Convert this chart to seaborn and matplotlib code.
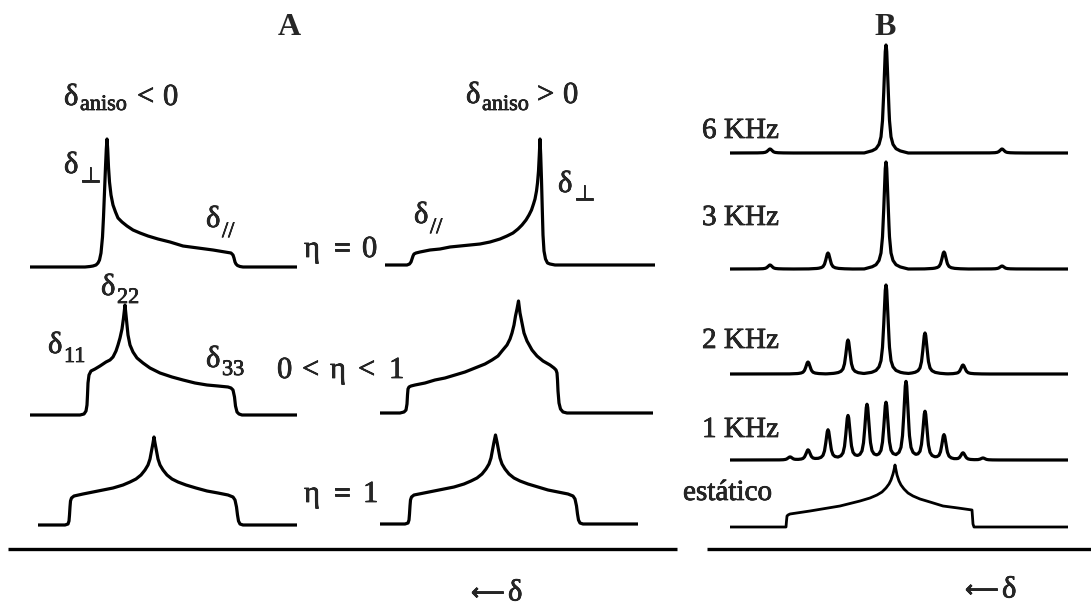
import numpy as np
import pandas as pd
import matplotlib.pyplot as plt
import matplotlib.patheffects as pe
import seaborn as sns

# ---- panel A: static CSA powder patterns ----
# x = shift (px from the left end of the trace), h = height above baseline (px)
eta0_neg_x = [0, 55, 60, 63, 66, 68, 69.5, 71, 72.5, 73.5, 74.5, 75.5, 76.3, 77, 77.7, 78.5, 79.5, 81, 83, 85.5, 88,
              92, 97, 103, 110, 118, 128, 140, 153, 168, 183, 195, 201, 203, 204, 205, 206, 207.5, 210, 213, 267]
eta0_neg_h = [0, 0, 0.5, 1, 2, 4, 7, 14, 30, 50, 75, 100, 118, 128, 118, 100, 85, 72, 62, 55, 49,
              45, 41, 37, 34, 31, 28, 25, 21, 19, 17, 15, 14, 12, 9, 5, 3, 1.5, 0.5, 0, 0]

eta0_pos_x = [0, 22, 24.5, 26, 27, 28, 29, 31, 35, 45, 55, 65, 75, 85, 95, 105, 115, 122, 128, 133, 137, 141, 144,
              146.5, 148.5, 150, 151.5, 152.5, 153.5, 154.3, 155, 155.7, 156.5, 157.3, 158, 159, 160.5, 162.5, 165, 170, 270]
eta0_pos_h = [0, 0, 1, 3, 6, 9, 11, 12, 13, 15, 16, 18, 19, 20, 21, 23, 26, 29, 32, 36, 40, 45, 50,
              55, 61, 66, 74, 82, 94, 110, 126, 110, 85, 55, 30, 14, 6, 2, 1, 0, 0]

etamid_neg_x = [0, 50, 54, 56, 57, 57.5, 58, 59, 61, 65, 70, 76, 80, 83, 86, 88, 90, 92, 93.5, 95, 96.5, 98, 100,
                103, 107, 113, 120, 130, 142, 153, 165, 177, 188, 198, 201, 203, 204.5, 205.5, 207, 209, 212, 267]
etamid_neg_h = [0, 0, 1, 4, 10, 20, 32, 40, 44, 46, 49, 53, 55, 58, 64, 70, 77, 86, 97, 110, 95, 80, 70,
                63, 57, 52, 47, 42, 38, 35, 32, 30, 29, 28, 27, 25, 18, 9, 3, 1, 0, 0]

etamid_pos_x = [0, 20, 24, 26, 27, 27.5, 28, 29, 31, 35, 45, 55, 65, 75, 85, 95, 105, 112, 118, 122, 127, 130, 132,
                134, 135.5, 137, 138.5, 140, 142, 144, 147, 152, 157, 163, 170, 174, 176, 177, 177.5, 178, 179, 180.5,
                183, 187, 273]
etamid_pos_h = [0, 0, 1, 3, 9, 18, 24, 26, 27, 28, 30, 33, 35, 38, 41, 45, 49, 53, 57, 62, 68, 74, 80,
                88, 97, 104, 112, 100, 90, 80, 72, 63, 57, 52, 48, 45, 43, 40, 33, 22, 10, 4,
                1, 0, 0]

eta1_neg_x = [0, 27, 30, 31, 31.5, 32, 32.5, 33.5, 36, 45, 55, 65, 75, 85, 92, 98, 103, 107, 110, 112, 113.5, 115,
              116, 117, 118.5, 120, 122, 125, 129, 134, 140, 148, 158, 169, 180, 190, 195, 197, 198.5, 199.5,
              200.5, 202, 205, 259]
eta1_neg_h = [0, 0, 1, 4, 10, 18, 24, 27, 29, 31, 33, 35, 37, 40, 43, 46, 50, 55, 60, 66, 74, 82,
              88, 82, 74, 66, 60, 55, 50, 46, 43, 40, 37, 34, 32, 30, 28, 25, 18, 10,
              4, 1, 0, 0]

eta1_pos_x = [0, 25, 28, 29, 29.5, 30, 30.5, 31.5, 34, 44, 54, 64, 74, 84, 91, 97, 102, 106, 109, 111, 112.5, 114,
              115.5, 117, 118.5, 120, 122, 125, 129, 134, 140, 148, 158, 168, 178, 188, 193, 195, 196.5, 197.5,
              198.5, 200, 203, 258]
eta1_pos_h = [0, 0, 1, 4, 10, 18, 24, 27, 29, 31, 33, 35, 37, 40, 43, 46, 50, 55, 60, 66, 74, 82,
              89, 82, 74, 66, 60, 55, 50, 46, 43, 40, 37, 34, 32, 30, 28, 25, 18, 10,
              4, 1, 0, 0]

# ---- panel B: MAS spectra at several spinning rates ----
static_x = [0, 56, 56.5, 57, 58, 60, 80, 110, 130, 140, 147, 152, 156, 159, 161, 163, 164, 165, 166, 167, 169, 171,
            174, 178, 183, 190, 200, 213, 228, 242, 242.5, 243, 244, 338]
static_h = [0, 0, 6, 11, 12, 13, 16, 21, 26, 29, 32, 35, 39, 43, 47, 53, 57, 62, 57, 52, 46, 42,
            38, 34, 31, 28, 25, 21, 19, 17, 10, 3, 0, 0]

# single-line shape read from the isotropic peak (offset px, fraction of height)
line_dx = [-22, -14, -10, -7, -5, -3.5, -2.5, -1.5, -0.7, 0, 0.7, 1.5, 2.5, 3.5, 5, 7, 10, 14, 22]
line_fr = [0, 0.02, 0.04, 0.08, 0.15, 0.3, 0.5, 0.75, 0.95, 1, 0.95, 0.75, 0.5, 0.3, 0.15, 0.08, 0.04, 0.02, 0]

spin_labels = ["6 KHz", "3 KHz", "2 KHz", "1 KHz"]
pos_6k = [40, 156, 272]
amp_6k = [4, 108, 4]
pos_3k = [40, 98, 156, 214, 272]
amp_3k = [4, 16, 107, 17, 3]
pos_2k = [78, 118, 156, 195, 233]
amp_2k = [12, 34, 89, 41, 9]
pos_1k = [60, 78, 98, 118, 137, 156, 176, 195, 214, 233, 253]
amp_1k = [3, 10, 30, 44, 55, 57, 78, 48, 25, 7, 2]
B_width = 338

# ---- layout (pixel frame of the 1091x607 figure) ----
W, H = 1091, 607
LW = 2.3
INK = "black"

sns.set_theme(style="white")
plt.rcParams["font.family"] = ["Liberation Serif", "DejaVu Serif"]

fig = plt.figure(figsize=(W / 100, H / 100), dpi=100)
ax = fig.add_axes([0, 0, 1, 1])
ax.set_xlim(0, W)
ax.set_ylim(H, 0)
ax.axis("off")


def draw_trace(x, h, x0, base, lw=LW):
    df = pd.DataFrame({"x": np.asarray(x, float) + x0,
                       "y": base - np.asarray(h, float)})
    sns.lineplot(data=df, x="x", y="y", sort=False, estimator=None,
                 color=INK, lw=lw, ax=ax, legend=False,
                 solid_joinstyle="round", solid_capstyle="butt")


def spectrum(pos, amp):
    grid = np.arange(0, B_width + 0.25, 0.25)
    y = np.zeros_like(grid)
    for p, a in zip(pos, amp):
        y += a * np.interp(grid - p, line_dx, line_fr, left=0, right=0)
    return grid, y


# panel A traces: (x, h, left x, baseline y)
draw_trace(eta0_neg_x, eta0_neg_h, 30, 267)
draw_trace(eta0_pos_x, eta0_pos_h, 385, 265)
draw_trace(etamid_neg_x, etamid_neg_h, 30, 415)
draw_trace(etamid_pos_x, etamid_pos_h, 380, 413)
draw_trace(eta1_neg_x, eta1_neg_h, 38, 525)
draw_trace(eta1_pos_x, eta1_pos_h, 380, 524)

# panel B traces
B_x0 = 730
B_bases = [153, 269, 374, 460]
for (pos, amp), base in zip([(pos_6k, amp_6k), (pos_3k, amp_3k),
                             (pos_2k, amp_2k), (pos_1k, amp_1k)], B_bases):
    gx, gy = spectrum(pos, amp)
    draw_trace(gx, gy, B_x0, base)
draw_trace(static_x, static_h, B_x0, 527, lw=2.0)

# frequency axes
ax.plot([8, 677], [549, 549], color=INK, lw=2.4, solid_capstyle="butt")
ax.plot([707, 1091], [549, 549], color=INK, lw=2.4, solid_capstyle="butt")

# ---- text ----
FS, SUB = 22, 16
bold_ink = [pe.withStroke(linewidth=0.5, foreground=INK)]


def put(x, y, s, fs=FS, **kw):
    ax.text(x, y, s, ha="left", va="baseline", fontsize=fs,
            path_effects=bold_ink, **kw)


def sym(x, y, main, sub, ys):
    # subscript starts right after the delta glyph
    put(x, y, main)
    put(x + 16, ys, sub, SUB)


ax.text(289, 35, "A", ha="center", va="baseline", fontsize=23, fontweight="bold")
ax.text(885, 35, "B", ha="center", va="baseline", fontsize=23, fontweight="bold")

sym(64, 105, "δ", "aniso", 110)
put(137, 105, "<")
put(163, 105, "0")
sym(466, 103, "δ", "aniso", 110)
put(537, 103, ">")
put(563, 103, "0")

sym(64, 173, "δ", "⊥", 182)
sym(558, 192, "δ", "⊥", 200)
sym(206, 227, "δ", "//", 237)
sym(414, 223, "δ", "//", 233)
put(304, 257, "η")
put(333, 257, "=")
put(362, 257, "0")

sym(101, 295, "δ", "22", 303)
sym(48, 353, "δ", "11", 362)
sym(206, 367, "δ", "33", 375)
put(277, 378, "0")
put(302, 378, "<")
put(330, 378, "η")
put(358, 378, "<")
put(389, 378, "1")

put(304, 502, "η")
put(333, 502, "=")
put(363, 502, "1")

for lab, yb in zip(spin_labels, [138, 225, 348, 437]):
    put(702, yb, lab, 21)
put(683, 500, "estático", 21)

for xa, yc in [(471, 593), (965, 590)]:
    ax.text(xa, yc, "⟵", ha="left", va="center", fontsize=17,
            family="DejaVu Sans", path_effects=bold_ink)
    ax.text(xa + 37, yc, "δ", ha="left", va="center", fontsize=FS,
            path_effects=bold_ink)

fig.savefig("out.png", dpi=100)
